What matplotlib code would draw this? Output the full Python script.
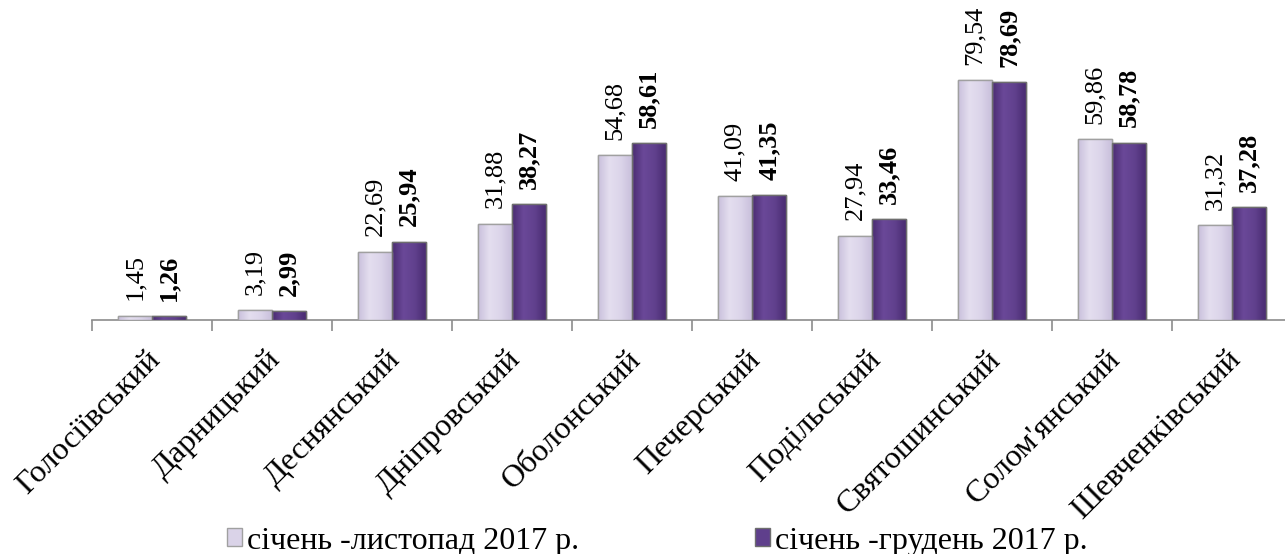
import matplotlib
matplotlib.use("Agg")
import matplotlib.pyplot as plt
import matplotlib.transforms as mtransforms
from matplotlib.colors import LinearSegmentedColormap
import numpy as np

categories = ["Голосіївський", "Дарницький", "Деснянський", "Дніпровський",
              "Оболонський", "Печерський", "Подільський", "Святошинський",
              "Солом'янський", "Шевченківський"]
series_names = ["січень -листопад 2017 р.", "січень -грудень 2017 р."]
values_nov = [1.45, 3.19, 22.69, 31.88, 54.68, 41.09, 27.94, 79.54, 59.86, 31.32]
values_dec = [1.26, 2.99, 25.94, 38.27, 58.61, 41.35, 33.46, 78.69, 58.78, 37.28]

plt.rcParams['font.family'] = ['Liberation Serif', 'DejaVu Serif']

W, H = 1285, 554
fig = plt.figure(figsize=(W / 100, H / 100), dpi=100)
ax = fig.add_axes([92 / W, (H - 320) / H, 1200 / W, 320 / H])

x = np.arange(len(categories))
bw = 0.283
light = '#DAD3E8'
dark = '#5F3F8C'
b1 = ax.bar(x - bw / 2, values_nov, bw, color=light, edgecolor='#A0A0A0', linewidth=1.0,
            label=series_names[0], zorder=3)
b2 = ax.bar(x + bw / 2, values_dec, bw, color=dark, edgecolor='#6E6E6E', linewidth=1.0,
            label=series_names[1], zorder=3)

# subtle horizontal gradient inside bars
cm_light = LinearSegmentedColormap.from_list('l', ['#C9C0DC', '#E4DEEF', '#DCD5EA', '#C9C0DC'])
cm_dark = LinearSegmentedColormap.from_list('d', ['#4A2C72', '#6A4898', '#61418E', '#4A2C72'])
grad = np.linspace(0, 1, 64).reshape(1, -1)
for bars, cm in ((b1, cm_light), (b2, cm_dark)):
    for p in bars:
        bx, by, bwid, bh = p.get_x(), p.get_y(), p.get_width(), p.get_height()
        im = ax.imshow(grad, extent=[bx, bx + bwid, by, by + bh], aspect='auto',
                       cmap=cm, zorder=3.2, interpolation='bilinear')
        im.set_clip_path(p)
        p2 = plt.Rectangle((bx, by), bwid, bh, fill=False, edgecolor=p.get_edgecolor(),
                           linewidth=1.0, zorder=3.4)
        ax.add_patch(p2)

def fmt(v):
    return f"{v:.2f}".replace('.', ',')

for xi, v in zip(x - bw / 2, values_nov):
    ax.annotate(fmt(v), (xi, v), xytext=(0, 11), textcoords='offset points',
                rotation=90, ha='center', va='bottom', fontsize=19)
for xi, v in zip(x + bw / 2, values_dec):
    ax.annotate(fmt(v), (xi, v), xytext=(0, 11), textcoords='offset points',
                rotation=90, ha='center', va='bottom', fontsize=19, fontweight='bold')

ax.set_xlim(-0.5, len(categories) - 0.5)
ax.set_ylim(0, 106)
for s in ['top', 'right', 'left']:
    ax.spines[s].set_visible(False)
ax.spines['bottom'].set_color('#8C8C8C')
ax.spines['bottom'].set_linewidth(1.2)
ax.set_yticks([])

ax.set_xticks(np.arange(len(categories) + 1) - 0.5)
ax.set_xticklabels([])
ax.tick_params(axis='x', which='major', length=8, width=1.2, color='#8C8C8C', direction='out')
ax.set_xticks(x, minor=True)
ax.set_xticklabels(categories, minor=True, rotation=45, ha='right', rotation_mode='anchor',
                   fontsize=23)
ax.tick_params(axis='x', which='minor', length=0, pad=18)
offset = mtransforms.ScaledTranslation(-6 / 100, 0, fig.dpi_scale_trans)
for lab in ax.get_xticklabels(minor=True):
    lab.set_transform(lab.get_transform() + offset)

fig.legend(handles=[b1, b2], labels=series_names, loc='center', ncol=2,
           bbox_to_anchor=(657 / W, 1 - 541 / H), frameon=False, fontsize=23,
           handlelength=0.47, handleheight=0.47, handletextpad=0.16, columnspacing=5.5,
           borderaxespad=0, borderpad=0)

fig.savefig('out.png', dpi=100)
